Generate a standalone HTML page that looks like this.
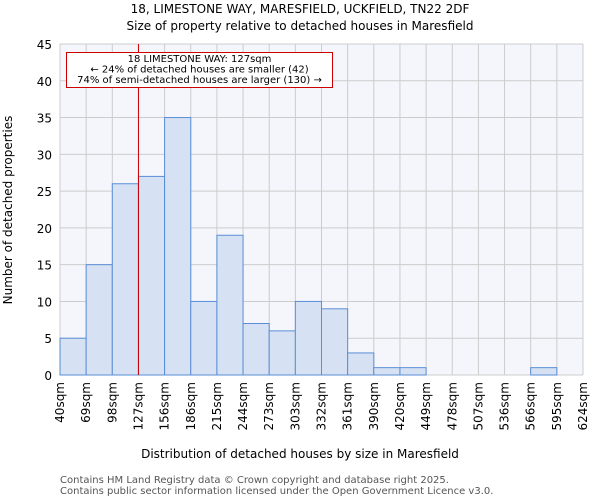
<!DOCTYPE html>
<html><head><meta charset="utf-8"><style>
body{margin:0;background:#fff;font-family:"DejaVu Sans","Liberation Sans",sans-serif}
svg text{font-family:"DejaVu Sans","Liberation Sans",sans-serif}
</style></head><body>
<svg id="c" width="600" height="500" xmlns="http://www.w3.org/2000/svg">
<text x="300" y="13" text-anchor="middle" font-size="12">18, LIMESTONE WAY, MARESFIELD, UCKFIELD, TN22 2DF</text>
<text x="300" y="30" text-anchor="middle" font-size="12">Size of property relative to detached houses in Maresfield</text>
<g id="plot"></g>
<text x="300" y="458" text-anchor="middle" font-size="12">Distribution of detached houses by size in Maresfield</text>
<text transform="translate(12,210) rotate(-90)" text-anchor="middle" font-size="12">Number of detached properties</text>
<text x="60" y="483" font-size="10" fill="#555">Contains HM Land Registry data © Crown copyright and database right 2025.</text>
<text x="60" y="494" font-size="10" fill="#555">Contains public sector information licensed under the Open Government Licence v3.0.</text>
</svg>
<script>
const binLabels=["40sqm","69sqm","98sqm","127sqm","156sqm","186sqm","215sqm","244sqm","273sqm","303sqm","332sqm","361sqm","390sqm","420sqm","449sqm","478sqm","507sqm","536sqm","566sqm","595sqm","624sqm"];
const counts=[5,15,26,27,35,10,19,7,6,10,9,3,1,1,0,0,0,0,1,0];
const yTicks=[0,5,10,15,20,25,30,35,40,45];
const markerBin=3;
const NS="http://www.w3.org/2000/svg";
const L=60,R=583,T=44,B=375,yMax=45;
const n=counts.length,bw=(R-L)/n;
const xs=i=>L+i*bw, ys=v=>B-v/yMax*(B-T);
const g=document.getElementById('plot');
function mk(t,a){const e=document.createElementNS(NS,t);for(const k in a)e.setAttribute(k,a[k]);g.appendChild(e);return e;}
let e=mk('rect',{x:L,y:T,width:R-L,height:B-T,fill:'#f4f6fc'});


for(let i=0;i<=n;i++){e=mk('line',{x1:xs(i),x2:xs(i),y1:T,y2:B,stroke:'#cccccc','stroke-width':1});

}
yTicks.forEach(v=>{e=mk('line',{x1:L,x2:R,y1:ys(v),y2:ys(v),stroke:'#cccccc','stroke-width':1});


e=mk('text',{x:L-8,y:ys(v)+5,'text-anchor':'end','font-size':12});e.textContent=v;

});
counts.forEach((v,i)=>{if(v<=0)return;e=mk('rect',{x:xs(i),y:ys(v),width:bw,height:ys(0)-ys(v),fill:'#d6e1f3',stroke:'#5a8ed6','stroke-width':1});

});
binLabels.forEach((s,i)=>{e=mk('text',{transform:`translate(${xs(i)+4},382) rotate(-90)`,'text-anchor':'end','font-size':12});e.textContent=s;

});
e=mk('line',{x1:xs(markerBin),x2:xs(markerBin),y1:T,y2:B,stroke:'#cc0000','stroke-width':1});


e=mk('rect',{x:66.5,y:52.5,width:266,height:35,fill:'#fff',stroke:'#cc0000','stroke-width':1});


["18 LIMESTONE WAY: 127sqm","← 24% of detached houses are smaller (42)","74% of semi-detached houses are larger (130) →"].forEach((s,i)=>{
e=mk('text',{x:199.5,y:62+i*10.5,'text-anchor':'middle','font-size':10});e.textContent=s;

});
</script>
</body></html>
